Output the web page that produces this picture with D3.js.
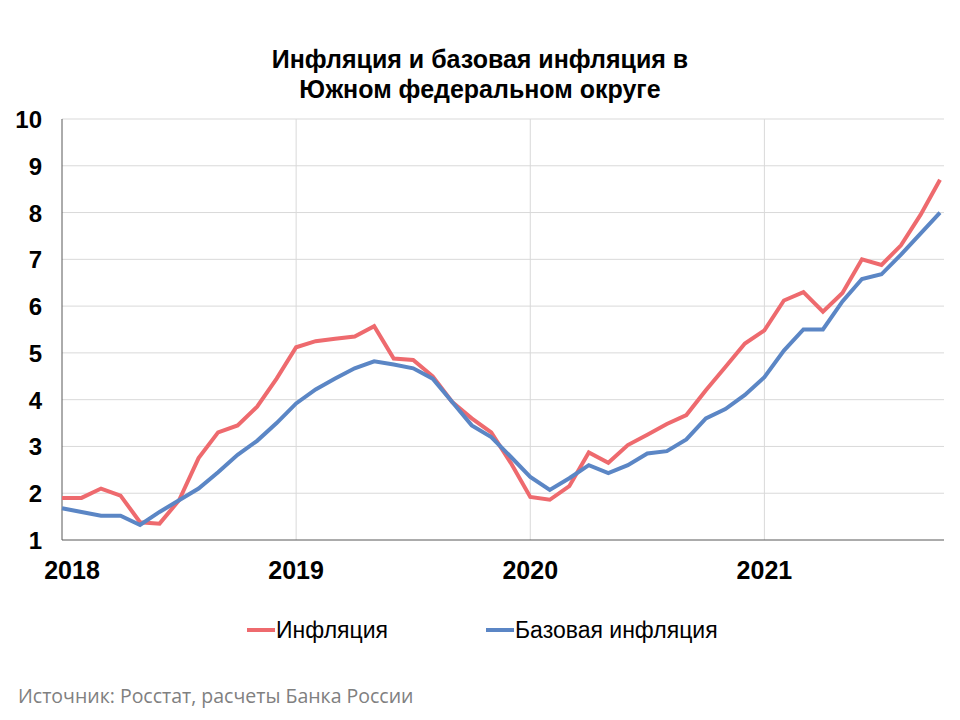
<!DOCTYPE html>
<html lang="ru">
<head>
<meta charset="utf-8">
<script src="https://d3js.org/d3.v7.min.js"></script>
<style>body{margin:0;background:#fff}</style>
</head>
<body>
<script>
var years = ["2018", "2019", "2020", "2021"];
var inflation = [1.9,1.9,2.1,1.95,1.38,1.35,1.85,2.75,3.3,3.45,3.85,4.45,
  5.12,5.25,5.3,5.35,5.57,4.88,4.85,4.5,3.95,3.6,3.3,2.65,
  1.92,1.86,2.15,2.87,2.65,3.03,3.25,3.48,3.67,4.2,4.7,5.2,
  5.48,6.12,6.3,5.88,6.28,7.0,6.88,7.3,7.95,8.7];
var core = [1.68,1.6,1.52,1.52,1.32,1.6,1.85,2.1,2.45,2.82,3.12,3.5,
  3.92,4.22,4.45,4.67,4.82,4.75,4.67,4.45,3.95,3.45,3.2,2.78,
  2.35,2.07,2.32,2.6,2.43,2.6,2.85,2.9,3.15,3.6,3.8,4.1,
  4.48,5.05,5.5,5.5,6.1,6.58,6.68,7.1,7.55,8.0];
var yTicks = [1,2,3,4,5,6,7,8,9,10];

var width = 960, height = 720;
var svg = d3.select("body").append("svg").attr("width", width).attr("height", height)
  .style("font-family", "Liberation Sans, Arial, sans-serif");

var x = d3.scaleLinear().domain([0, 45]).range([62, 940]);
var y = d3.scaleLinear().domain([1, 10]).range([540, 119]);

// grid
svg.append("g").selectAll("line").data(yTicks.slice(1)).enter().append("line")
  .attr("x1", 62).attr("x2", 944).attr("y1", d => y(d)).attr("y2", d => y(d))
  .attr("stroke", "#d9d9d9");
svg.append("g").selectAll("line").data(years.slice(1)).enter().append("line")
  .attr("x1", (d, i) => x((i + 1) * 12)).attr("x2", (d, i) => x((i + 1) * 12))
  .attr("y1", y(1)).attr("y2", y(10)).attr("stroke", "#d9d9d9");

// axes
svg.append("line").attr("x1", 62).attr("x2", 62).attr("y1", y(1)).attr("y2", y(10)).attr("stroke", "#595959");
svg.append("line").attr("x1", 62).attr("x2", 944).attr("y1", y(1)).attr("y2", y(1)).attr("stroke", "#595959");
svg.append("g").selectAll("text").data(yTicks).enter().append("text")
  .attr("x", 42).attr("y", d => y(d) + 9).attr("text-anchor", "end")
  .attr("font-size", 24).attr("font-weight", "bold").text(d => d);
svg.append("g").selectAll("text").data(years).enter().append("text")
  .attr("x", (d, i) => x(i * 12) + (i === 0 ? 10 : 0)).attr("y", 579).attr("text-anchor", "middle")
  .attr("font-size", 25).attr("font-weight", "bold").text(d => d);

// lines
var line = d3.line().x((d, i) => x(i)).y(d => y(d));
svg.append("path").datum(inflation).attr("d", line).attr("fill", "none")
  .attr("stroke", "#ee6a6e").attr("stroke-width", 4);
svg.append("path").datum(core).attr("d", line).attr("fill", "none")
  .attr("stroke", "#5b86c5").attr("stroke-width", 4);

// title
svg.append("text").attr("x", 480).attr("y", 68).attr("text-anchor", "middle")
  .attr("font-size", 25).attr("font-weight", "bold").text("Инфляция и базовая инфляция в");
svg.append("text").attr("x", 480).attr("y", 98).attr("text-anchor", "middle")
  .attr("font-size", 25).attr("font-weight", "bold").text("Южном федеральном округе");

// legend
var legend = [{name: "Инфляция", color: "#ee6a6e", x: 247}, {name: "Базовая инфляция", color: "#5b86c5", x: 486}];
var lg = svg.append("g").selectAll("g").data(legend).enter().append("g");
lg.append("line").attr("x1", d => d.x).attr("x2", d => d.x + 28).attr("y1", 630).attr("y2", 630)
  .attr("stroke", d => d.color).attr("stroke-width", 4);
lg.append("text").attr("x", d => d.x + 29).attr("y", 638).attr("font-size", 23).text(d => d.name);

svg.append("text").attr("x", 18).attr("y", 703).attr("font-size", 19.5)
  .attr("font-family", "Open Sans, sans-serif").attr("fill", "#808080")
  .text("Источник: Росстат, расчеты Банка России");
</script>
</body>
</html>
